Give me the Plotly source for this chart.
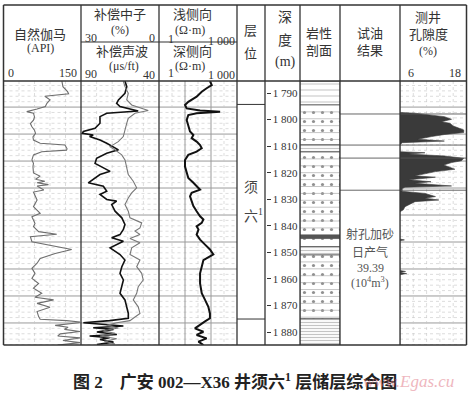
import numpy as np
import plotly.graph_objects as go

# ---------------- data ----------------
gr_depth = [1785.5, 1787.6, 1789.5, 1790.3, 1791.2, 1792.6, 1793.9, 1795.1, 1796.0, 1797.0, 1797.6, 1799.0, 1800.2,
            1801.5, 1802.7, 1804.0, 1805.2, 1806.5, 1807.7, 1808.9, 1809.6, 1811.0, 1811.5, 1812.1, 1813.3, 1815.2,
            1816.5, 1817.7, 1820.1, 1821.3, 1822.5, 1823.2, 1823.8, 1824.5, 1825.0, 1826.5, 1827.3, 1828.8, 1830.3,
            1832.8, 1835.3, 1836.6, 1839.1, 1840.3, 1842.2, 1843.2, 1844.1, 1846.0, 1847.2, 1848.9, 1850.4, 1852.3,
            1854.1, 1856.0, 1857.9, 1859.8, 1861.7, 1863.5, 1865.4, 1866.9, 1867.9, 1869.2, 1870.7, 1872.3, 1874.2,
            1875.2, 1875.7, 1876.2, 1876.5, 1877.5, 1878.2, 1879.0, 1879.8, 1880.7, 1881.5, 1882.2, 1883.2, 1884.0,
            1884.9]
gr_api = [113, 115, 124, 126, 80, 90, 84, 81, 65, 45, 58, 60, 58, 52, 55, 60, 62, 57, 58, 71, 119, 123, 122, 74, 58,
          55, 58, 57, 58, 71, 62, 80, 65, 87, 65, 78, 58, 62, 65, 58, 71, 55, 61, 58, 68, 103, 52, 55, 90, 132, 100,
          71, 65, 55, 61, 55, 68, 58, 74, 61, 97, 65, 90, 65, 68, 71, 122, 148, 145, 100, 125, 118, 148, 110, 105,
          148, 115, 148, 105]

cnl_depth = [1785.5, 1787.6, 1790.1, 1792.6, 1793.9, 1795.1, 1796.8, 1797.6, 1798.9, 1801.4, 1803.3, 1804.5, 1805.2,
             1805.8, 1806.4, 1807.7, 1808.9, 1810.2, 1811.4, 1812.7, 1814.6, 1816.5, 1818.2, 1819.5, 1820.7, 1822.6,
             1823.8, 1825.1, 1827.0, 1828.2, 1830.1, 1830.7, 1832.0, 1834.5, 1837.0, 1839.5, 1841.4, 1843.3, 1844.5,
             1845.8, 1848.3, 1850.8, 1852.9, 1855.4, 1857.9, 1860.4, 1862.9, 1865.4, 1867.9, 1870.5, 1873.0, 1874.8,
             1875.7, 1876.5, 1877.1, 1877.7, 1878.4, 1879.0, 1880.0, 1880.9, 1881.5, 1882.1, 1882.8, 1883.8, 1884.7]
cnl_pct = [13.1, 12.4, 13.1, 15.6, 16.3, 15.0, 8.0, 20.1, 22.7, 22.7, 24.6, 29.1, 29.5, 25.3, 26.7, 22.7, 20.1, 17.6,
           15.6, 20.1, 24.0, 24.6, 21.4, 18.8, 22.7, 25.3, 27.2, 21.4, 20.1, 22.7, 20.1, 16.3, 18.2, 16.9, 14.3, 13.1,
           13.7, 15.0, 18.2, 13.7, 18.8, 15.0, 13.1, 14.3, 15.0, 13.7, 14.3, 15.0, 13.1, 12.4, 11.8, 11.8, 19.0, 29.1,
           22.7, 13.7, 25.3, 17.5, 23.9, 16.2, 26.7, 19.0, 22.7, 17.5, 23.9]

ac_depth = [1785.5, 1787.6, 1790.1, 1792.6, 1794.5, 1796.6, 1797.6, 1799.5, 1801.4, 1803.9, 1806.4, 1808.3, 1810.2,
            1811.4, 1813.3, 1815.2, 1817.7, 1820.7, 1823.2, 1825.7, 1827.6, 1829.5, 1832.0, 1834.5, 1837.0, 1838.9,
            1840.8, 1842.0, 1843.3, 1844.8, 1846.4, 1848.3, 1850.8, 1852.9, 1855.4, 1857.9, 1860.4, 1862.9, 1865.4,
            1867.9, 1870.5, 1873.0, 1874.8, 1875.7, 1876.5, 1877.5, 1878.5, 1879.5, 1880.5, 1881.5, 1882.5, 1883.5,
            1884.5]
ac_us = [62.9, 61.8, 59.7, 60.7, 57.5, 46.9, 55.4, 59.7, 60.7, 61.8, 62.9, 66.1, 71.4, 68.2, 63.9, 61.8, 60.7, 59.7,
         56.5, 54.3, 57.5, 59.7, 61.8, 59.7, 58.6, 51.1, 52.2, 55.4, 52.2, 58.6, 52.2, 57.5, 58.6, 52.2, 54.3, 51.1,
         50.1, 53.3, 54.3, 56.5, 53.3, 52.2, 56.5, 58.6, 67.1, 73.5, 66.1, 75.7, 68.2, 77.8, 67.1, 75.0, 68.2]

rd_depth = [1785.5, 1787.0, 1788.2, 1789.5, 1791.4, 1793.3, 1794.5, 1795.8, 1796.6, 1797.1, 1797.6, 1798.3, 1800.2,
            1802.7, 1804.5, 1805.8, 1807.0, 1808.3, 1809.6, 1810.8, 1812.1, 1813.3, 1815.2, 1817.7, 1820.1, 1822.0,
            1823.8, 1825.1, 1826.4, 1827.6, 1828.9, 1830.7, 1832.6, 1834.5, 1836.4, 1837.6, 1838.9, 1840.2, 1841.4,
            1843.3, 1845.2, 1847.1, 1848.9, 1850.8, 1852.9, 1855.4, 1857.9, 1861.7, 1865.4, 1867.9, 1870.5, 1873.0,
            1874.8, 1876.0, 1877.4, 1878.6, 1879.9, 1881.1, 1882.4, 1883.6, 1884.9]
rd_ohm = [91, 107, 68, 44, 28, 13.4, 10, 11.6, 38, 224, 28, 13.4, 11.6, 13.4, 15.6, 21, 18, 28, 38, 44, 28, 13.4, 10,
          10, 11.6, 13.4, 21, 28, 38, 18, 15.6, 18, 21, 28, 38, 51, 44, 28, 33, 28, 38, 59, 91, 123, 51, 44, 38, 38,
          44, 59, 79, 91, 91, 59, 38, 24, 51, 28, 68, 33, 51]

por_depth = [1785.5, 1797.3, 1797.6, 1798.3, 1798.9, 1799.9, 1800.8, 1801.4, 1802.4, 1803.3, 1803.9, 1804.9, 1805.6,
             1806.4, 1807.4, 1808.1, 1808.7, 1809.5, 1812.1, 1812.5, 1813.0, 1813.7, 1814.6, 1815.5, 1816.2, 1817.1,
             1818.0, 1818.7, 1819.6, 1820.5, 1821.2, 1821.7, 1822.2, 1822.7, 1823.4, 1824.0, 1825.0, 1825.5, 1826.0,
             1827.0, 1827.8, 1828.4, 1829.0, 1829.6, 1830.3, 1830.9, 1831.8, 1832.8, 1834.0, 1834.7, 1845.0, 1845.3,
             1845.6, 1856.8, 1857.2, 1857.6, 1858.0, 1858.4, 1884.9]
por_pct = [6, 6, 8.7, 12.3, 14, 15.3, 13.5, 15, 15.6, 16.7, 17.5, 17.5, 14.1, 11.7, 9.2, 14, 6.4, 6, 6, 10.5, 7.6, 14,
           17.5, 17.1, 15.3, 13.9, 15, 15.9, 12.4, 10.6, 8.7, 12.4, 9.6, 7.6, 11.6, 8.7, 15.3, 6.9, 6.4, 6.4, 10.5,
           11.5, 12.4, 10.5, 13, 8.7, 7.9, 6.9, 6.6, 6, 6, 6.8, 6, 6, 7, 6, 7.2, 6, 6]

depth_ticks = [1790, 1800, 1810, 1820, 1830, 1840, 1850, 1860, 1870, 1880]
depth_tick_text = ["1 790", "1 800", "1 810", "1 820", "1 830", "1 840", "1 850", "1 860", "1 870", "1 880"]

lith_top = [1785.5, 1794.5, 1809.5, 1812.2, 1843.5, 1844.8, 1847.8, 1851.0, 1875.0]
lith_bottom = [1794.5, 1809.5, 1812.2, 1843.5, 1844.8, 1847.8, 1851.0, 1875.0, 1884.9]
lith_type = ["silt", "sand", "shale", "sand", "dark", "sand", "shale", "sand", "shale"]

layer_bounds = [1794.3, 1875.1]
test_bounds = [1797.9, 1809.6, 1814.5, 1826.6]
test_text = ["射孔加砂", "日产气", "39.39", "(10<sup>4</sup>m<sup>3</sup>)"]
test_text_depth = [1843.1, 1850.1, 1855.9, 1861.5]

DMIN, DMAX = 1785.48, 1884.88

# ---------------- layout helpers ----------------
W, H = 470, 393
def px(x):
    return x / W
def py(y):
    return 1 - y / H

FONT = "Liberation Serif, Noto Sans CJK SC"
TXT = "#333333"
FRAME = "#333333"

fig = go.Figure()

# curves
fig.add_trace(go.Scatter(x=gr_api, y=gr_depth, xaxis="x", yaxis="y", mode="lines",
                         line=dict(color="#6e6e6e", width=1.1)))
fig.add_trace(go.Scatter(x=ac_us, y=ac_depth, xaxis="x3", yaxis="y", mode="lines",
                         line=dict(color="#777777", width=1.1)))
fig.add_trace(go.Scatter(x=cnl_pct, y=cnl_depth, xaxis="x2", yaxis="y", mode="lines",
                         line=dict(color="#111111", width=1.6)))
fig.add_trace(go.Scatter(x=rd_ohm, y=rd_depth, xaxis="x4", yaxis="y", mode="lines",
                         line=dict(color="#111111", width=2)))
fig.add_trace(go.Scatter(x=por_pct, y=por_depth, xaxis="x6", yaxis="y", mode="lines", fill="tozerox",
                         fillcolor="#3a3a3a", line=dict(color="#3a3a3a", width=0.6)))

# lithology
styles = {
    "silt": dict(shape="-", fgcolor="#9a9a9a", size=6, solidity=0.2),
    "sand": dict(shape=".", fgcolor="#222222", size=9, solidity=0.1),
    "shale": dict(shape="-", fgcolor="#8a8a8a", size=3, solidity=0.4),
}
for t, b, k in zip(lith_top, lith_bottom, lith_type):
    kw = dict(x=[0, 1, 1, 0, 0], y=[t, t, b, b, t], xaxis="x5", yaxis="y", mode="lines", fill="toself",
              line=dict(color="#555555", width=0.8))
    if k == "dark":
        kw["fillcolor"] = "#555555"
    else:
        kw["fillcolor"] = "white"
        kw["fillpattern"] = dict(bgcolor="white", **styles[k])
    fig.add_trace(go.Scatter(**kw))

shapes = []
def seg_paper(x0, y0, x1, y1, color=FRAME, width=1.3, dash=None):
    shapes.append(dict(type="line", xref="paper", yref="paper", x0=px(x0), x1=px(x1), y0=py(y0), y1=py(y1),
                       line=dict(color=color, width=width, dash=dash), layer="above"))
def seg_depth(d, x0, x1, color, width, dash=None, layer="above"):
    shapes.append(dict(type="line", xref="paper", yref="y", x0=px(x0), x1=px(x1), y0=d, y1=d,
                       line=dict(color=color, width=width, dash=dash), layer=layer))
def vseg(x, color, width, dash=None):
    shapes.append(dict(type="line", xref="paper", yref="paper", x0=px(x), x1=px(x), y0=py(81), y1=py(345),
                       line=dict(color=color, width=width, dash=dash), layer="below"))

# grid (log tracks)
step = 10.16
dd = 1795.3
while dd - step / 5 > DMIN:
    dd -= step / 5
while dd < DMAX:
    r = (dd - 1795.3) / step
    if abs(r - round(r)) < 1e-3:
        seg_depth(dd, 3.5, 237, "#9a9a9a", 1, layer="below")
        seg_depth(dd, 400, 466.5, "#9a9a9a", 1, layer="below")
    else:
        seg_depth(dd, 3.5, 237, "#c6c6c6", 0.6, "dot", layer="below")
        seg_depth(dd, 400, 466.5, "#c6c6c6", 0.6, "dot", layer="below")
    dd += step / 5

for (a, b) in [(3.5, 81), (81, 159), (400, 466.5)]:
    for i in range(1, 5):
        vseg(a + (b - a) * i / 5, "#c6c6c6", 0.6, "dot")
for f in [1 / 3, 2 / 3]:
    vseg(159 + 78 * f, "#9a9a9a", 1)
for f in [0.5 / 3, 1.5 / 3, 2.5 / 3]:
    vseg(159 + 78 * f, "#c6c6c6", 0.6, "dot")

# sandstone bedding lines
for t, b, k in zip(lith_top, lith_bottom, lith_type):
    if k == "sand":
        for z in np.arange(t + 2.6, b - 0.6, 2.6):
            seg_depth(z, 300, 340, "#a0a0a0", 0.6)

# layer and test interval lines
for z in layer_bounds:
    seg_depth(z, 237, 265, FRAME, 1)
for z in test_bounds:
    seg_depth(z, 340, 466.5, "#555555", 0.9)

# frame
seg_paper(3.5, 5, 466.5, 5, width=1.5)
seg_paper(3.5, 345, 466.5, 345, width=1.5)
seg_paper(3.5, 5, 3.5, 345, width=1.5)
seg_paper(466.5, 5, 466.5, 345, width=1.5)
seg_paper(3.5, 81, 466.5, 81, width=1.3)
seg_paper(81, 42, 237, 42, width=1.1)
for x in [81, 159, 237, 265, 300, 340, 400]:
    seg_paper(x, 5, x, 345, width=1.3)

# ---------------- annotations ----------------
ann = []
def T(text, x, y, size=13, xanchor="center", color=TXT, family=FONT, yref="paper"):
    ann.append(dict(text=text, x=px(x), y=(py(y) if yref == "paper" else y), xref="paper", yref=yref,
                    xanchor=xanchor, yanchor="middle", showarrow=False,
                    font=dict(size=size, color=color, family=family)))

T("自然伽马", 40, 35)
T("(API)", 40, 48, 12)
T("0", 6, 73, 12, "left")
T("150", 79, 73, 12, "right")
T("补偿中子", 120, 15)
T("(%)", 120, 30, 12)
T("30", 83, 38, 12, "left")
T("0", 157, 38, 12, "right")
T("补偿声波", 122, 52)
T("(μs/ft)", 124, 66, 12)
T("90", 83, 74, 12, "left")
T("40", 157, 75, 12, "right")
T("浅侧向", 192, 15)
T("(Ω·m)", 190, 30, 12)
T("1", 166, 39, 12, "left")
T("1 000", 237, 41, 12, "right")
T("深侧向", 192, 52)
T("(Ω·m)", 190, 66, 12)
T("1", 166, 73, 12, "left")
T("1 000", 237, 75, 12, "right")
T("层", 250, 31)
T("位", 250, 53)
T("深", 285, 18, 14)
T("度", 285, 40, 14)
T("(m)", 285, 62, 14)
T("岩性", 319, 33)
T("剖面", 319, 50)
T("试油", 370, 33)
T("结果", 370, 50)
T("测井", 428, 18)
T("孔隙度", 428, 34)
T("(%)", 428, 51, 12)
T("6", 406, 73, 12, "left")
T("18", 463, 73, 12, "right")

T("须", 251, 1825.4, 14, yref="y", color="#444444")
T("六<sup>1</sup>", 253, 1836.0, 14, yref="y", color="#444444")
for s, z in zip(test_text, test_text_depth):
    T(s, 370, z, 12, yref="y", color="#555555")

ann.append(dict(text="<b>图 2　广安 002—X36 井须六<sup>1</sup> 层储层综合图</b>", x=px(235), y=py(381),
                xref="paper", yref="paper", xanchor="center", yanchor="middle", showarrow=False,
                font=dict(size=17, color="#222222", family=FONT)))
ann.append(dict(text="<i>www.Egas.cu</i>", x=px(456), y=py(381), xref="paper", yref="paper",
                xanchor="right", yanchor="middle", showarrow=False, opacity=0.5,
                font=dict(size=17, color="#e07080", family="Liberation Serif")))

hidden = dict(visible=False, showgrid=False, zeroline=False)
fig.update_layout(
    width=W, height=H, margin=dict(l=0, r=0, t=0, b=0),
    paper_bgcolor="white", plot_bgcolor="white", showlegend=False,
    xaxis=dict(domain=[px(3.5), px(81)], range=[0, 150], **hidden),
    xaxis2=dict(domain=[px(81), px(159)], range=[30, 0], **hidden),
    xaxis3=dict(overlaying="x2", range=[90, 40], **hidden),
    xaxis4=dict(domain=[px(159), px(237)], type="log", range=[0, 3], **hidden),
    xaxis5=dict(domain=[px(300), px(340)], range=[0, 1], **hidden),
    xaxis6=dict(domain=[px(400), px(466.5)], range=[6, 18], **hidden),
    yaxis=dict(domain=[py(345), py(81)], range=[DMAX, DMIN], anchor="free", position=px(265.5), side="right",
               tickmode="array", tickvals=depth_ticks, ticktext=depth_tick_text, ticks="outside", ticklen=4,
               tickcolor=FRAME, tickwidth=1, showgrid=False, zeroline=False, showline=False,
               tickfont=dict(size=11, family="Liberation Serif", color=TXT)),
    shapes=shapes, annotations=ann,
)

fig.write_html("out.html", config={"displayModeBar": False},
               post_script="document.body.style.margin='0px';document.body.style.overflow='hidden';")
